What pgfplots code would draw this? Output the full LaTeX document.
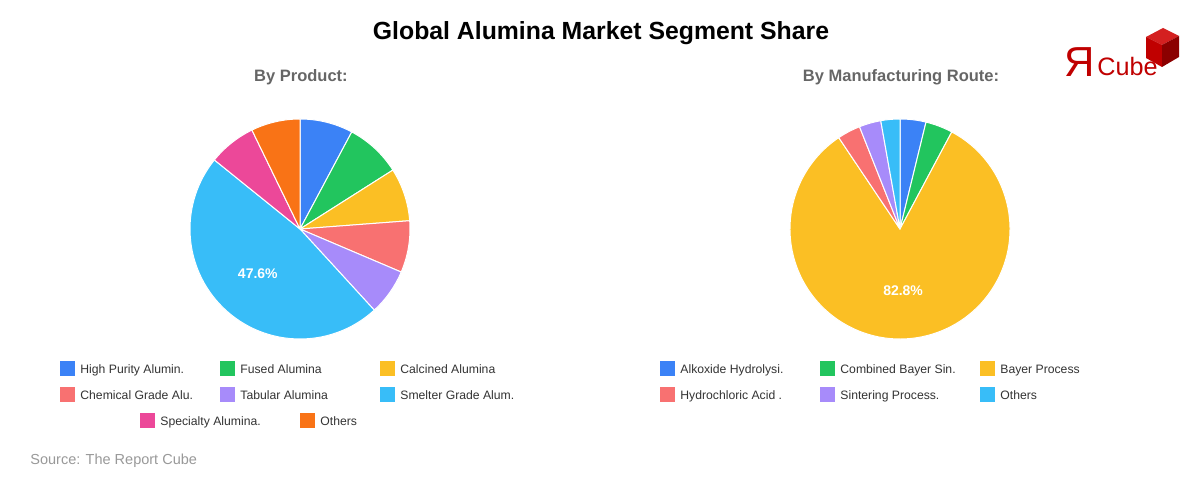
\documentclass[border=0pt]{standalone}
\usepackage{pgfplots}
\pgfplotsset{compat=1.18}
\usepackage{fontspec}
\setmainfont{Liberation Sans}
\definecolor{pb}{HTML}{3B82F6}
\definecolor{pg}{HTML}{22C55E}
\definecolor{py}{HTML}{FBBF24}
\definecolor{pr}{HTML}{F87171}
\definecolor{pp}{HTML}{A78BFA}
\definecolor{pl}{HTML}{38BDF8}
\definecolor{pk}{HTML}{EC4899}
\definecolor{po}{HTML}{F97316}
\definecolor{subgray}{HTML}{666666}
\definecolor{txt}{HTML}{333333}
\definecolor{srcgray}{HTML}{999999}
\definecolor{logored}{HTML}{C00000}
\definecolor{logotop}{HTML}{D42020}
\definecolor{logodark}{HTML}{8B0000}
\newcommand\piechart[1]{% #1 list value/color
  \def\cum{0}%
  \pgfplotsforeachungrouped \v/\c in {#1} {%
    \pgfmathsetmacro\a{90-3.6*\cum}%
    \pgfmathsetmacro\b{90-3.6*(\cum+\v)}%
    \edef\tmp{\noexpand\fill[\c, draw=white, line width=0.5pt, line join=round] (axis cs:0,0) -- ([shift={(\a:55pt)}]axis cs:0,0) arc[start angle=\a, end angle=\b, radius=55pt] -- cycle;}%
    \tmp
    \ifdim\v pt>40pt
      \pgfmathsetmacro\m{(\a+\b)/2}%
      \pgfmathsetmacro\lx{0.56*cos(\m)}%
      \pgfmathsetmacro\ly{0.56*sin(\m)}%
      \edef\tmp{\noexpand\node[text=white, font=\noexpand\bfseries\noexpand\fontsize{7}{8}\noexpand\selectfont] at (axis cs:\lx,\ly) {\v\noexpand\%};}%
      \tmp
    \fi
    \pgfmathsetmacro\cum{\cum+\v}%
  }%
}
\begin{document}
\begin{tikzpicture}
\begin{scope}[x=0.5pt,y=-0.5pt,yshift=240pt]
\path[use as bounding box, fill=white] (0,0) rectangle (1200,480);
% title
\node[font=\bfseries\fontsize{12.4}{14}\selectfont, text=black] at (601,33) {Global Alumina Market Segment Share};
\node[font=\bfseries\fontsize{8.25}{10}\selectfont, text=subgray] at (301,77) {By Product:};
\node[font=\bfseries\fontsize{8.25}{10}\selectfont, text=subgray] at (901,77) {By Manufacturing Route:};
% legends
\tikzset{leg/.style={anchor=base west, text=txt, font=\fontsize{6.1}{7}\selectfont, inner sep=0pt}}
\foreach \x/\y/\c/\t in {60/369/pb/High Purity Alumin., 220/369/pg/Fused Alumina, 380/369/py/Calcined Alumina,
  60/395/pr/Chemical Grade Alu., 220/395/pp/Tabular Alumina, 380/395/pl/Smelter Grade Alum.,
  140/421/pk/Specialty Alumina., 300/421/po/Others,
  660/369/pb/Alkoxide Hydrolysi., 820/369/pg/Combined Bayer Sin., 980/369/py/Bayer Process,
  660/395/pr/Hydrochloric Acid ., 820/395/pp/Sintering Process., 980/395/pl/Others}
{
  \fill[\c] (\x,\y-7.5) rectangle (\x+15,\y+7.5);
  \node[leg] at (\x+20,\y+4.5) {\t};
}
\node[anchor=base west, text=srcgray, font=\fontsize{7.25}{8}\selectfont, inner sep=0pt] at (30,465) {Source: The Report Cube};
% logo
\node[anchor=base west, text=logored, font=\fontsize{21}{22}\selectfont, inner sep=0pt] at (1064,77) {Я};
\node[anchor=base west, text=logored, font=\fontsize{12.6}{14}\selectfont, inner sep=0pt] at (1097,76) {Cube};
\fill[logotop] (1146,37) -- (1163,28) -- (1179,36) -- (1162,45) -- cycle;
\fill[logored] (1146,37) -- (1162,45) -- (1162,67) -- (1146,58) -- cycle;
\fill[logodark] (1162,45) -- (1179,36) -- (1179,57) -- (1162,67) -- cycle;
\end{scope}
% left pie
\begin{axis}[at={(150pt,125.5pt)}, anchor=center, width=110pt, height=110pt, scale only axis,
  xmin=-1, xmax=1, ymin=-1, ymax=1, hide axis, clip=false]
\addplot[draw=none] coordinates {(0,0)};
\piechart{7.8/pb, 8.2/pg, 7.8/py, 7.6/pr, 6.8/pp, 47.6/pl, 7.0/pk, 7.2/po}
\end{axis}
% right pie
\begin{axis}[at={(450pt,125.5pt)}, anchor=center, width=110pt, height=110pt, scale only axis,
  xmin=-1, xmax=1, ymin=-1, ymax=1, hide axis, clip=false]
\addplot[draw=none] coordinates {(0,0)};
\piechart{3.8/pb, 4.0/pg, 82.8/py, 3.4/pr, 3.2/pp, 2.8/pl}
\end{axis}
\end{tikzpicture}
\end{document}
